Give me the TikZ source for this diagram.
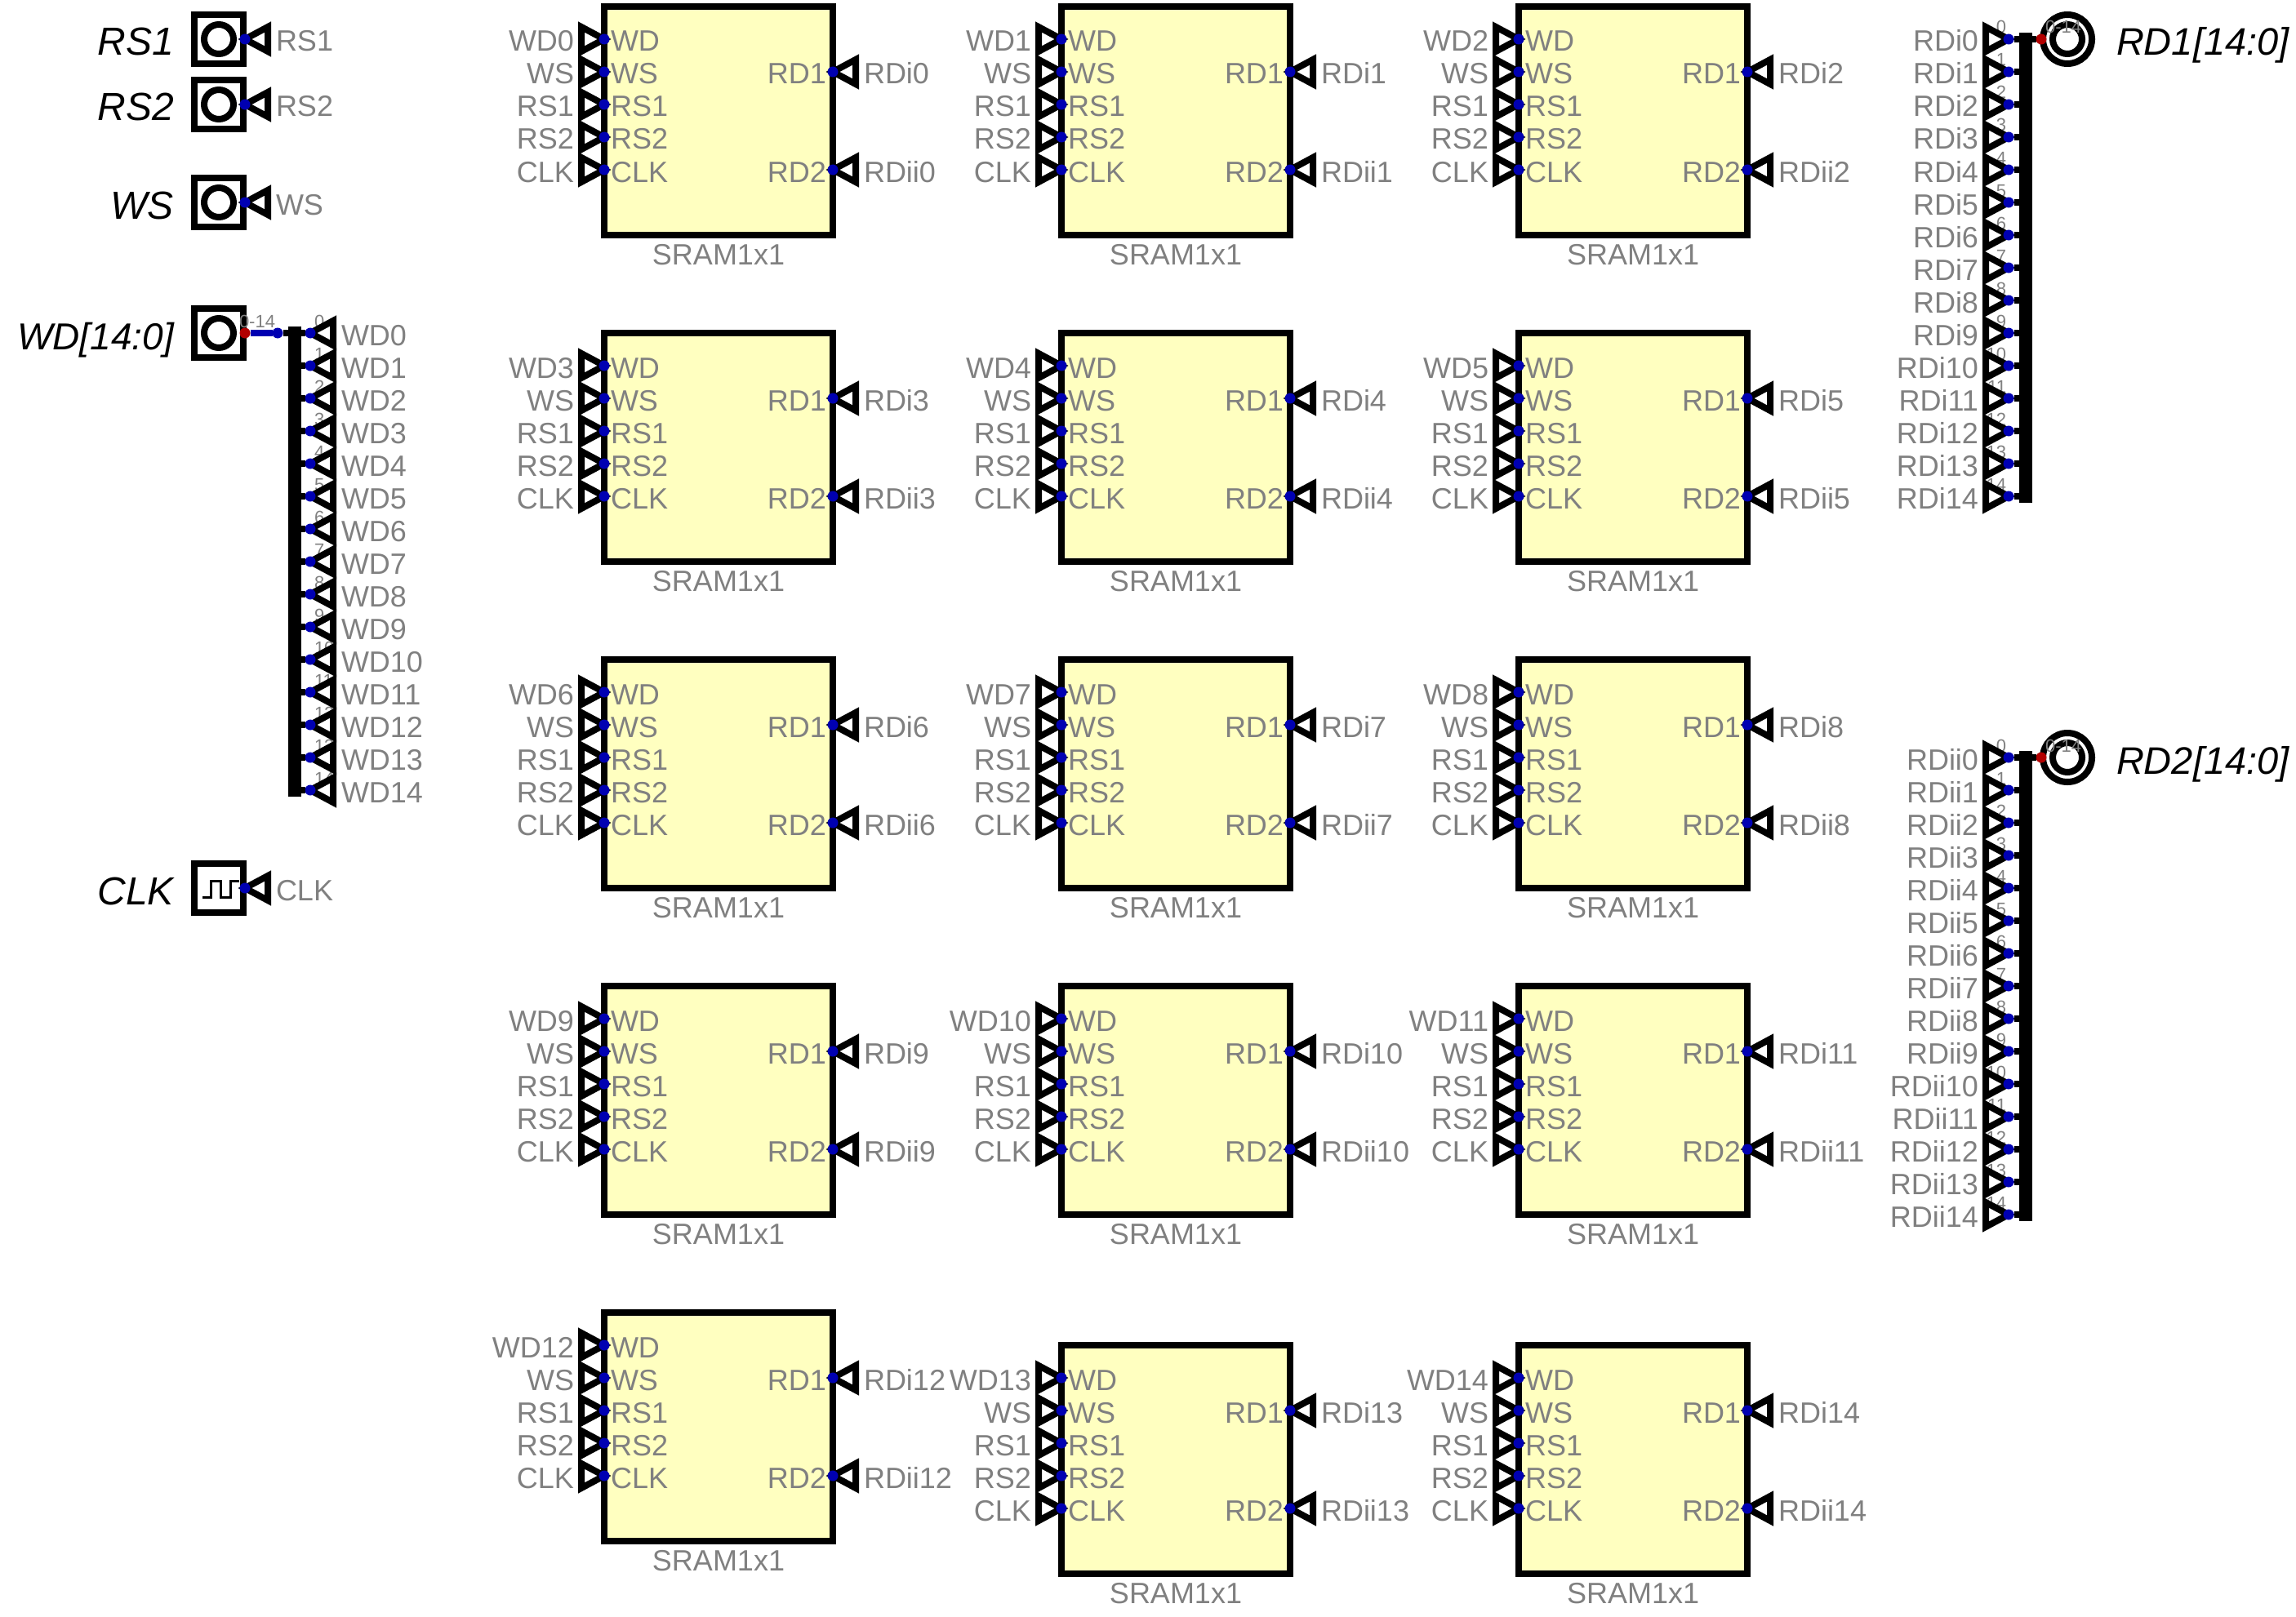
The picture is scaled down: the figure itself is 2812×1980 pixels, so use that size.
\documentclass[tikz,border=0pt]{standalone}
\usepackage{fontspec}
\setmainfont{Liberation Sans}
\usetikzlibrary{positioning}
\definecolor{wireblue}{RGB}{0,0,178}
\definecolor{wirered}{RGB}{178,0,0}
\definecolor{textgray}{RGB}{128,128,128}
\definecolor{blockfill}{RGB}{255,255,192}
\tikzset{
	sram/.style={rectangle,draw=black,fill=blockfill,line width=8pt,minimum width=280pt,minimum height=280pt,inner sep=0pt,outer sep=0pt},
	inbox/.style={rectangle,draw=black,fill=white,line width=8pt,minimum width=60pt,minimum height=60pt,inner sep=0pt,outer sep=0pt},
	ring/.style={circle,draw=black,line width=8pt,inner sep=0pt,outer sep=0pt},
	tunnel/.style={draw=black,fill=white,line width=8pt,miter limit=10},
	pindot/.style={circle,fill=#1,inner sep=0pt,outer sep=0pt,minimum size=13pt},
	pindot/.default=wireblue,
	stub/.style={draw=black,line width=8pt},
	buswire/.style={draw=wireblue,line width=8pt},
	busbar/.style={rectangle,fill=black,inner sep=0pt,outer sep=0pt,minimum width=16pt},
	pinlabel/.style={text=textgray,inner sep=0pt,outer sep=0pt,font=\fontsize{36}{36}\selectfont},
	bitlabel/.style={text=textgray,inner sep=0pt,outer sep=0pt,font=\fontsize{22}{22}\selectfont},
	biglabel/.style={text=black,inner sep=0pt,outer sep=0pt,font=\fontsize{#1}{#1}\selectfont\itshape},
	biglabel/.default=48
}
% tunnel pointing at a pin on its right: name, position, text
\newcommand{\tunnelleft}[3]{%
	\draw[tunnel] (#2) -- ++(-28,-15) -- ++(0,30) -- cycle;
	\node[pinlabel,anchor=base east] (#1t) at ([shift={(-37,15)}]#2) {#3};
	\node[pindot] (#1) at (#2) {};
}
% the same, pin on its left
\newcommand{\tunnelright}[3]{%
	\draw[tunnel] (#2) -- ++(28,-15) -- ++(0,30) -- cycle;
	\node[pinlabel,anchor=base west] (#1t) at ([shift={(38,15)}]#2) {#3};
	\node[pindot] (#1) at (#2) {};
}
\begin{document}
\begin{tikzpicture}[x=1pt,y=-1pt]
	\useasboundingbox (0,0) rectangle (2812,1980);
	% memory cells
	\foreach \i/\cx/\cy in {0/880/148,1/1440/148,2/2000/148,3/880/548,4/1440/548,5/2000/548,6/880/948,7/1440/948,8/2000/948,9/880/1348,10/1440/1348,11/2000/1348,12/880/1748,13/1440/1788,14/2000/1788} {
		\node[sram] (s\i) at (\cx,\cy) {};
		\node[pinlabel,below=11pt of s\i] (s\i n) {SRAM1x1};
		\foreach \pin/\tx [count=\k from 0] in {WD/WD\i,WS/WS,RSa/RS1,RSb/RS2,CLK/CLK} {
			\tunnelleft{s\i\pin}{{\cx-140},{\cy-100+40*\k}}{\tx}
		}
		\foreach \pin [count=\k from 0] in {WD,WS,RS1,RS2,CLK} {
			\node[pinlabel,anchor=base west] at ({\cx-132},{\cy-85+40*\k}) {\pin};
		}
		\tunnelright{s\i a}{{\cx+140},{\cy-60}}{RDi\i}
		\tunnelright{s\i b}{{\cx+140},{\cy+60}}{RDii\i}
		\node[pinlabel,anchor=base east] at ({\cx+132},{\cy-45}) {RD1};
		\node[pinlabel,anchor=base east] at ({\cx+132},{\cy+75}) {RD2};
	}
	% inputs
	\foreach \nm/\py in {RS1/48,RS2/128,WS/248} {
		\node[inbox] (box\nm) at (268,\py) {};
		\node[ring,minimum size=36pt] (in\nm) at (268,\py) {};
		\node[biglabel,anchor=base east] (name\nm) at (213,{\py+20}) {\nm};
		\tunnelright{pin\nm}{300,\py}{\nm}
	}
	\node[inbox] (boxWD) at (268,408) {};
	\node[ring,minimum size=36pt] (inWD) at (268,408) {};
	\node[biglabel=46,anchor=base east] (nameWD) at (213,428) {WD[14:0]};
	\node[inbox] (boxCLK) at (268,1088) {};
	\draw[line width=3pt] (248,1099) -- (258,1099) -- (258,1079) -- (270,1079) -- (270,1099) -- (282,1099) -- (282,1079) -- (293,1079);
	\node[biglabel,anchor=base east] (nameCLK) at (213,1108) {CLK};
	\tunnelright{pinCLK}{300,1088}{CLK}
	% write data bus
	\node[busbar,minimum height=576pt] (barWD) at (360.5,688) {};
	\node[pindot=wirered] (pinWD) at (300,408) {};
	\node[pindot] (jointWD) at (340,408) {};
	\draw[buswire] (pinWD) -- (jointWD);
	\draw[stub] (jointWD) -- (jointWD -| barWD);
	\foreach \k in {0,...,14} {
		\node[bitlabel,anchor=base west] (bitWD\k) at (385,{401+40*\k}) {\k};
	}
	\foreach \k in {0,...,14} {
		\tunnelright{WD\k}{380,{408+40*\k}}{WD\k}
		\draw[stub] (WD\k) -- (WD\k -| barWD);
	}
	% read buses
	\foreach \nm/\tx/\py in {a/RDi/48,b/RDii/928} {
		\node[busbar,minimum height=576pt] (bar\nm) at (2480.5,{\py+280}) {};
		\foreach \k in {0,...,14} {
			\node[bitlabel,anchor=base east] (bit\nm\k) at (2457,{\py-7+40*\k}) {\k};
		}
		\foreach \k in {0,...,14} {
			\tunnelleft{rd\nm\k}{2460,{\py+40*\k}}{\tx\k}
			\draw[stub] (rd\nm\k) -- (rd\nm\k -| bar\nm);
		}
		\node[ring,minimum size=60pt] (outer\nm) at (2532,\py) {};
		\node[ring,minimum size=36pt] (inner\nm) at (2532,\py) {};
		\node[pindot=wirered] (out\nm) at (2500,\py) {};
		\draw[stub] (out\nm) -- (out\nm -| bar\nm);
		\node[bitlabel,anchor=base west] (rng\nm) at (2505,{\py-7}) {0-14};
	}
	\node[biglabel=47,anchor=base west] (nameRDa) at (2592,68) {RD1[14:0]};
	\node[biglabel=47,anchor=base west] (nameRDb) at (2592,948) {RD2[14:0]};
	\node[bitlabel,anchor=base west] (rngWD) at (293,401) {0-14};
\end{tikzpicture}
\end{document}
